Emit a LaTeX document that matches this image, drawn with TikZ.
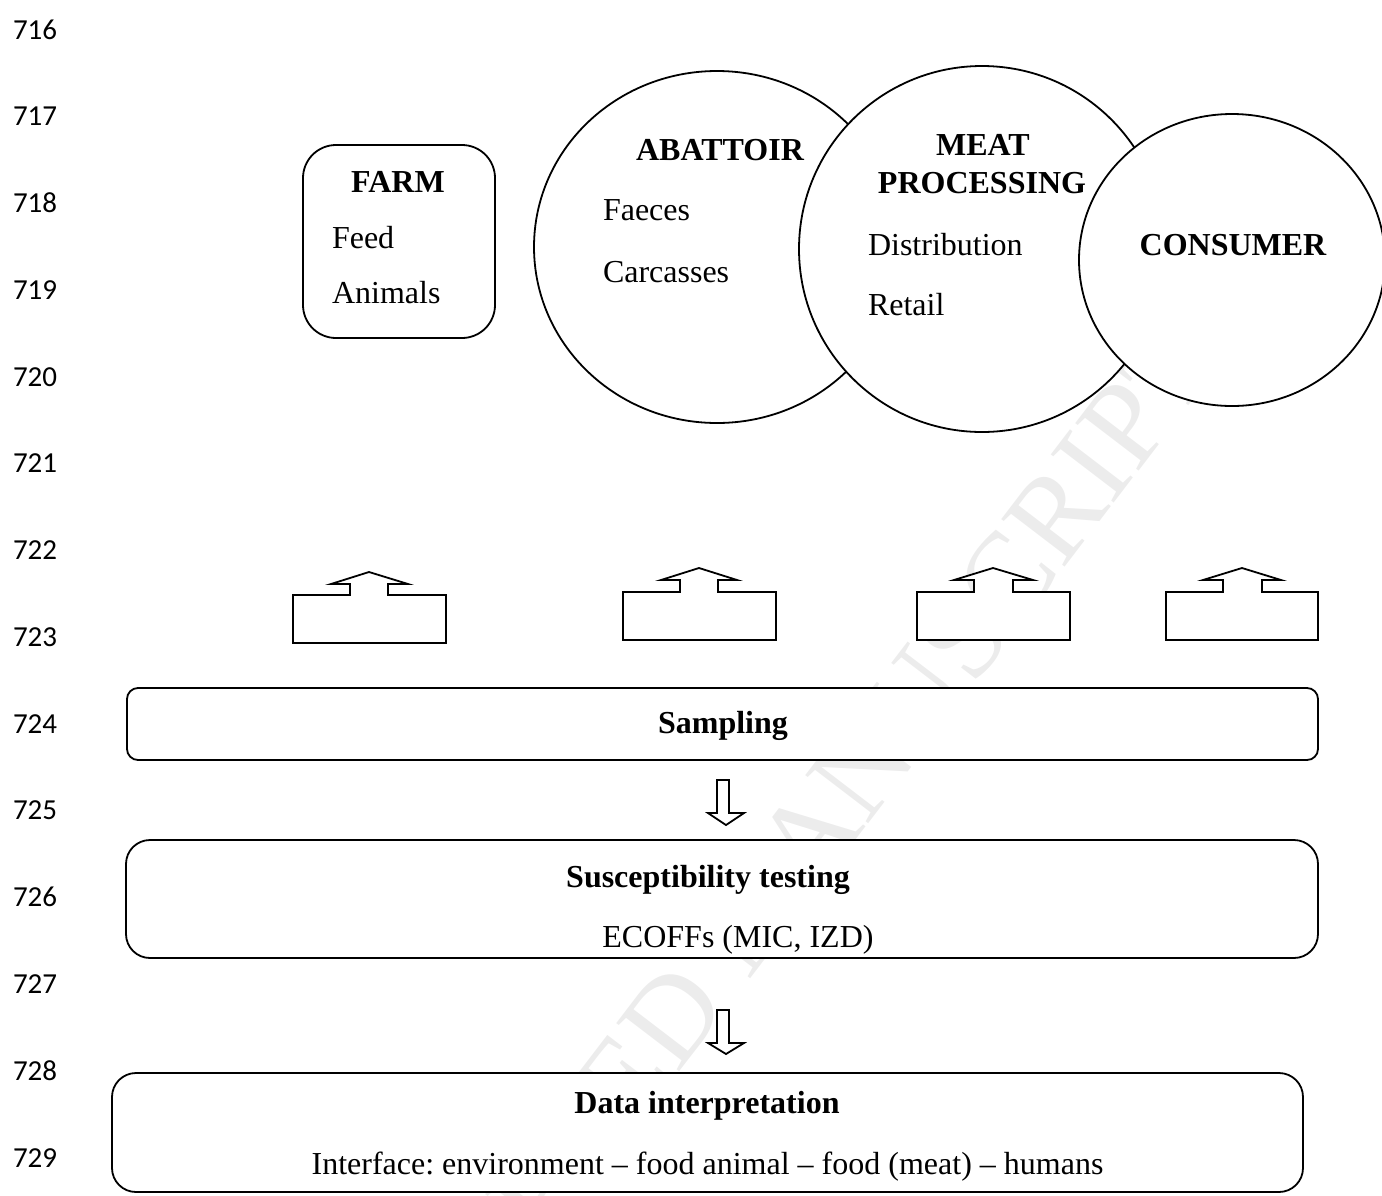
\documentclass[tikz,border=0pt]{standalone}
\usepackage{fontspec}
\setmainfont{Liberation Serif}
\newfontfamily\lnfont{Carlito}
\usetikzlibrary{shapes.geometric}
\frenchspacing
\begin{document}
\begin{tikzpicture}[x=0.5pt,y=-0.5pt,
  line width=0.9pt, line join=miter,
  every node/.style={inner sep=0pt, outer sep=0pt},
  txt/.style={font=\fontsize{16}{19}\selectfont},
  btxt/.style={font=\fontsize{16}{19}\selectfont\bfseries},
  lnum/.style={font=\lnfont\fontsize{14.5}{17}\selectfont, anchor=base west},
  shapebox/.style={draw, fill=white},
  blockarrow/.style={draw, fill=white},
  wmark/.style={text=gray!15, font=\fontsize{60.5}{66}\selectfont}
]
\useasboundingbox (0,0) rectangle (1382,1195);

% watermark (under everything)
\node[wmark, rotate=52.6] (wm) at (755,908) {ACCEPTED MANUSCRIPT};

% line numbers
\foreach \n [count=\i from 0] in {716,...,729}
  \node[lnum] (ln\n) at (13,{39+86.77*\i}) {\n};

% FARM
\node[shapebox, rectangle, rounded corners=16.5pt, minimum width=96pt, minimum height=96.5pt] (farm) at (399,241.5) {};
\node[btxt, anchor=base] (farmT) at (398,192) {FARM};
\node[txt, anchor=base west] (feed) at (332,248) {Feed};
\node[txt, anchor=base west] (animals) at (332,303) {Animals};

% circles
\node[shapebox, ellipse, minimum width=183pt, minimum height=176pt] (abattoir) at (717,247) {};
\node[shapebox, circle, minimum size=183pt] (meat) at (982,249) {};
\node[shapebox, ellipse, minimum width=153pt, minimum height=146pt] (consumer) at (1232,260) {};

\node[btxt, anchor=base] (abT) at (720,160) {ABATTOIR};
\node[txt, anchor=base west] (faeces) at (603,220) {Faeces};
\node[txt, anchor=base west] (carc) at (603,282) {Carcasses};

\node[btxt, anchor=base] (meatT) at (983,155) {MEAT};
\node[btxt, anchor=base] (procT) at (982,193) {PROCESSING};
\node[txt, anchor=base west] (distr) at (868,255) {Distribution};
\node[txt, anchor=base west] (retail) at (868,315) {Retail};

\node[btxt, anchor=base] (consT) at (1233,255) {CONSUMER};

% up-arrow callouts
\draw[blockarrow] (293,643) -- (293,595) -- (350,595) -- (350,584) -- (331,584) -- (369,572) -- (408,584) -- (388,584) -- (388,595) -- (446,595) -- (446,643) -- cycle;
\draw[blockarrow] (623,640) -- (623,592) -- (680,592) -- (680,580) -- (661,580) -- (699,568) -- (737,580) -- (718,580) -- (718,592) -- (776,592) -- (776,640) -- cycle;
\draw[blockarrow] (917,640) -- (917,592) -- (974,592) -- (974,580) -- (954,580) -- (993,568) -- (1033,580) -- (1013,580) -- (1013,592) -- (1070,592) -- (1070,640) -- cycle;
\draw[blockarrow] (1166,640) -- (1166,592) -- (1223,592) -- (1223,580) -- (1203,580) -- (1242,568) -- (1281,580) -- (1262,580) -- (1262,592) -- (1318,592) -- (1318,640) -- cycle;

% Sampling
\node[shapebox, rectangle, rounded corners=5.5pt, minimum width=595.5pt, minimum height=36pt] (sampling) at (722.5,724) {};
\node[btxt, anchor=base] (sampT) at (723,733) {Sampling};

% down arrow 1
\draw[blockarrow] (717,780) -- (729,780) -- (729,813) -- (744,813) -- (726,825) -- (708,813) -- (717,813) -- cycle;

% Susceptibility testing
\node[shapebox, rectangle, rounded corners=12pt, minimum width=596pt, minimum height=59pt] (suscept) at (722,899) {};
\node[btxt, anchor=base] (suscT) at (708,887) {Susceptibility testing};
\node[txt, anchor=base] (ecoff) at (738,947) {ECOFFs (MIC, IZD)};

% down arrow 2
\draw[blockarrow] (717,1010) -- (729,1010) -- (729,1043) -- (744,1043) -- (726,1054) -- (708,1043) -- (717,1043) -- cycle;

% Data interpretation
\node[shapebox, rectangle, rounded corners=12pt, minimum width=595.5pt, minimum height=59.5pt] (data) at (707.5,1132.5) {};
\node[btxt, anchor=base] (dataT) at (707,1113) {Data interpretation};
\node[txt, anchor=base] (iface) at (707.5,1174) {Interface: environment – food animal – food (meat) – humans};
\end{tikzpicture}
\end{document}
